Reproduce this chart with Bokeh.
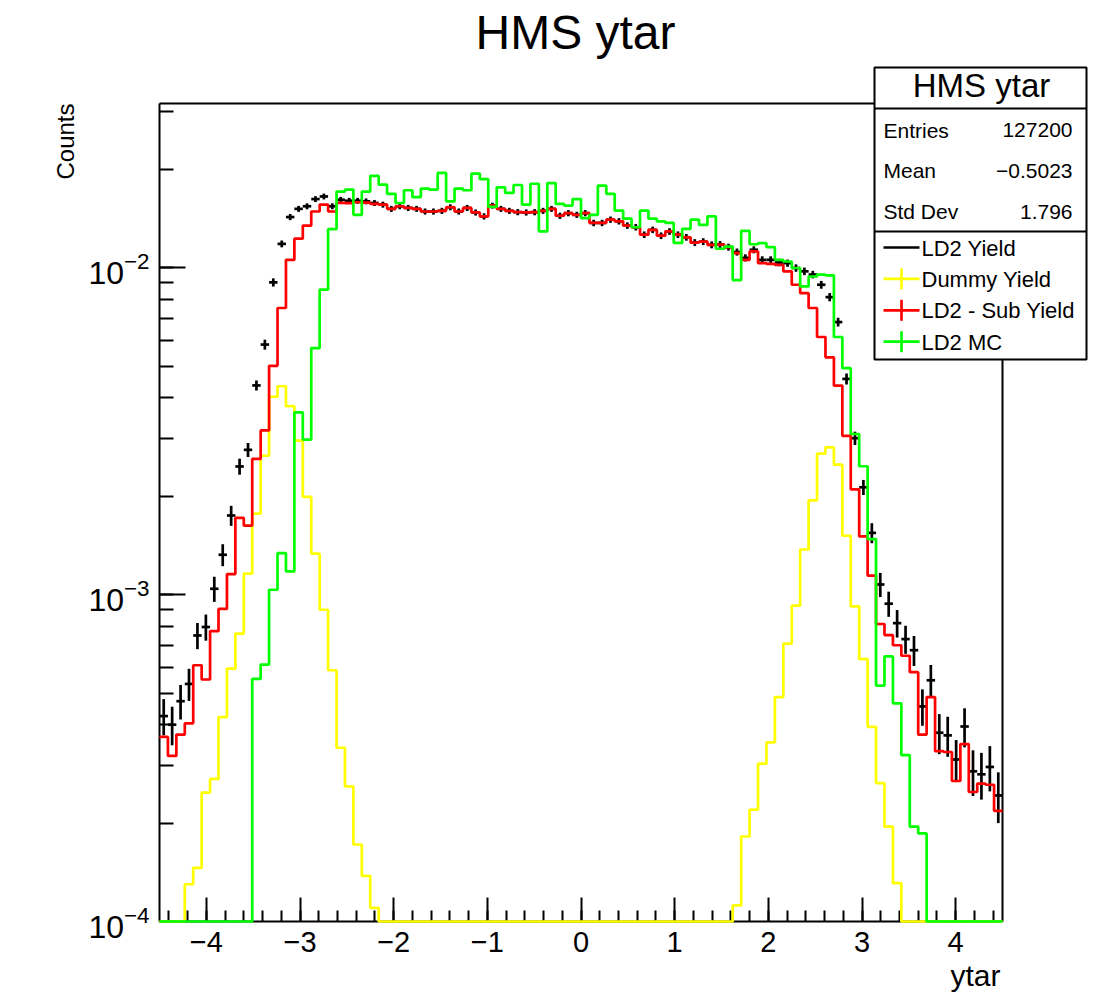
import numpy as np
from bokeh.plotting import figure
from bokeh.models import (Range1d, SingleIntervalTicker, CustomJSTickFormatter,
                          LinearAxis, LogAxis, FixedTicker)
from bokeh.core.properties import value
from bokeh.embed import file_html
from bokeh.resources import INLINE

# ---------------- data ----------------
X_MIN, X_MAX, N_BINS = -4.5, 4.5, 100
Y_MIN, Y_MAX = 1e-4, 0.0318

title_text = "HMS ytar"
x_title = "ytar"
y_title = "Counts"

stat_names = ["Entries", "Mean", "Std Dev"]
stat_values = ["127200", "\u22120.5023", "1.796"]

legend_labels = ["LD2 Yield", "Dummy Yield", "LD2 - Sub Yield", "LD2 MC"]
legend_colors = ["black", "#ffff00", "#ff0000", "#00ff00"]

# LD2 Yield (points with error bars)
ld2_yield = [
    4.25e-4, 4.00e-4, 4.72e-4, 5.33e-4, 7.50e-4, 7.96e-4, 1.042e-3, 1.324e-3, 1.746e-3, 2.466e-3,
    2.773e-3, 4.365e-3, 5.82e-3, 9.02e-3, 1.183e-2, 1.429e-2, 1.514e-2, 1.542e-2, 1.622e-2, 1.652e-2,
    1.542e-2, 1.614e-2, 1.603e-2, 1.603e-2, 1.596e-2, 1.578e-2, 1.560e-2, 1.514e-2, 1.542e-2, 1.524e-2,
    1.514e-2, 1.486e-2, 1.486e-2, 1.493e-2, 1.531e-2, 1.486e-2, 1.524e-2, 1.476e-2, 1.436e-2, 1.549e-2,
    1.514e-2, 1.493e-2, 1.479e-2, 1.476e-2, 1.479e-2, 1.493e-2, 1.514e-2, 1.442e-2, 1.469e-2, 1.452e-2,
    1.469e-2, 1.371e-2, 1.371e-2, 1.403e-2, 1.387e-2, 1.346e-2, 1.330e-2, 1.262e-2, 1.306e-2, 1.253e-2,
    1.291e-2, 1.262e-2, 1.239e-2, 1.194e-2, 1.202e-2, 1.175e-2, 1.178e-2, 1.156e-2, 1.117e-2, 1.072e-2,
    1.135e-2, 1.057e-2, 1.057e-2, 1.038e-2, 1.033e-2, 9.98e-3, 9.75e-3, 9.53e-3, 8.87e-3, 8.13e-3,
    6.82e-3, 4.57e-3, 3.01e-3, 2.13e-3, 1.545e-3, 1.074e-3, 9.38e-4, 8.18e-4, 7.31e-4, 6.76e-4,
    4.55e-4, 5.47e-4, 3.78e-4, 3.71e-4, 3.13e-4, 3.95e-4, 2.88e-4, 2.82e-4, 2.97e-4, 2.43e-4,
]
ld2_yield_err = [
    5.4e-5, 5.4e-5, 5.7e-5, 6.0e-5, 6.9e-5, 7.3e-5, 9.2e-5, 1.02e-4, 1.23e-4, 1.39e-4,
    1.37e-4, 1.54e-4, 2.05e-4, 2.6e-4, 2.85e-4, 3.1e-4, 3.2e-4, 3.25e-4, 3.35e-4, 3.4e-4,
    3.25e-4, 3.3e-4, 3.3e-4, 3.3e-4, 3.3e-4, 3.3e-4, 3.3e-4, 3.2e-4, 3.25e-4, 3.25e-4,
    3.2e-4, 3.2e-4, 3.2e-4, 3.2e-4, 3.25e-4, 3.2e-4, 3.25e-4, 3.2e-4, 3.15e-4, 3.25e-4,
    3.2e-4, 3.2e-4, 3.2e-4, 3.2e-4, 3.2e-4, 3.2e-4, 3.2e-4, 3.15e-4, 3.2e-4, 3.15e-4,
    3.2e-4, 3.1e-4, 3.1e-4, 3.1e-4, 3.1e-4, 3.05e-4, 3.05e-4, 2.95e-4, 3.0e-4, 2.95e-4,
    3.0e-4, 2.95e-4, 2.9e-4, 2.9e-4, 2.9e-4, 2.85e-4, 2.85e-4, 2.8e-4, 2.8e-4, 2.7e-4,
    2.8e-4, 2.7e-4, 2.7e-4, 2.7e-4, 2.65e-4, 2.6e-4, 2.6e-4, 2.55e-4, 2.45e-4, 2.35e-4,
    2.1e-4, 1.77e-4, 1.42e-4, 1.13e-4, 1.09e-4, 9.1e-5, 8.3e-5, 7.9e-5, 7.2e-5, 7.1e-5,
    5.8e-5, 6.2e-5, 5.3e-5, 5.2e-5, 4.6e-5, 5.4e-5, 4.6e-5, 4.6e-5, 4.7e-5, 4.3e-5,
]

# Dummy Yield
dummy_yield = [
    6e-5, 8e-5, 9e-5, 1.30e-4, 1.46e-4, 2.48e-4, 2.73e-4, 4.22e-4, 5.94e-4, 7.60e-4,
    1.159e-3, 1.770e-3, 2.66e-3, 4.03e-3, 4.34e-3, 3.77e-3, 2.96e-3, 1.99e-3, 1.334e-3, 8.99e-4,
    5.87e-4, 3.40e-4, 2.59e-4, 1.72e-4, 1.38e-4, 1.10e-4, 0, 0, 0, 0,
    0, 0, 0, 0, 0, 0, 0, 0, 0, 0,
    0, 0, 0, 0, 0, 0, 0, 0, 0, 0,
    0, 0, 0, 0, 0, 0, 0, 0, 0, 0,
    0, 0, 0, 0, 0, 0, 0, 0, 1.12e-4, 1.82e-4,
    2.20e-4, 3.04e-4, 3.53e-4, 4.86e-4, 7.08e-4, 9.25e-4, 1.374e-3, 1.941e-3, 2.70e-3, 2.82e-3,
    2.50e-3, 1.514e-3, 9.20e-4, 6.35e-4, 3.94e-4, 2.65e-4, 1.95e-4, 1.31e-4, 0, 0,
    0, 0, 0, 0, 0, 0, 0, 0, 0, 0,
]

# LD2 - Sub Yield
sub_yield = [
    3.67e-4, 3.21e-4, 3.73e-4, 4.04e-4, 6.08e-4, 5.50e-4, 7.73e-4, 9.04e-4, 1.156e-3, 1.718e-3,
    1.626e-3, 2.60e-3, 3.18e-3, 5.01e-3, 7.53e-3, 1.057e-2, 1.227e-2, 1.346e-2, 1.486e-2, 1.560e-2,
    1.486e-2, 1.580e-2, 1.577e-2, 1.586e-2, 1.582e-2, 1.567e-2, 1.560e-2, 1.514e-2, 1.542e-2, 1.524e-2,
    1.514e-2, 1.486e-2, 1.486e-2, 1.493e-2, 1.531e-2, 1.486e-2, 1.524e-2, 1.476e-2, 1.436e-2, 1.549e-2,
    1.514e-2, 1.493e-2, 1.479e-2, 1.476e-2, 1.479e-2, 1.493e-2, 1.514e-2, 1.442e-2, 1.469e-2, 1.452e-2,
    1.469e-2, 1.371e-2, 1.371e-2, 1.403e-2, 1.387e-2, 1.346e-2, 1.330e-2, 1.262e-2, 1.306e-2, 1.253e-2,
    1.291e-2, 1.262e-2, 1.239e-2, 1.194e-2, 1.202e-2, 1.175e-2, 1.178e-2, 1.156e-2, 1.109e-2, 1.057e-2,
    1.122e-2, 1.033e-2, 1.028e-2, 1.021e-2, 9.75e-3, 8.87e-3, 8.36e-3, 7.53e-3, 6.14e-3, 5.32e-3,
    4.36e-3, 3.06e-3, 2.10e-3, 1.507e-3, 1.143e-3, 8.13e-4, 7.52e-4, 7.00e-4, 6.50e-4, 5.79e-4,
    3.73e-4, 4.86e-4, 3.32e-4, 3.30e-4, 2.69e-4, 3.49e-4, 2.49e-4, 2.64e-4, 2.62e-4, 2.18e-4,
]

# LD2 MC
mc_yield = [
    0, 0, 0, 0, 0, 0, 0, 0, 0, 0,
    0, 5.52e-4, 6.11e-4, 1.035e-3, 1.340e-3, 1.178e-3, 3.61e-3, 2.98e-3, 5.68e-3, 8.57e-3,
    1.312e-2, 1.710e-2, 1.734e-2, 1.452e-2, 1.710e-2, 1.910e-2, 1.795e-2, 1.683e-2, 1.578e-2, 1.726e-2,
    1.644e-2, 1.746e-2, 1.734e-2, 1.950e-2, 1.596e-2, 1.746e-2, 1.726e-2, 1.941e-2, 1.866e-2, 1.535e-2,
    1.762e-2, 1.694e-2, 1.791e-2, 1.560e-2, 1.807e-2, 1.291e-2, 1.816e-2, 1.567e-2, 1.549e-2, 1.622e-2,
    1.419e-2, 1.452e-2, 1.782e-2, 1.683e-2, 1.496e-2, 1.413e-2, 1.330e-2, 1.496e-2, 1.413e-2, 1.387e-2,
    1.371e-2, 1.191e-2, 1.315e-2, 1.403e-2, 1.352e-2, 1.436e-2, 1.143e-2, 1.161e-2, 9.16e-3, 1.297e-2,
    1.180e-2, 1.189e-2, 1.156e-2, 1.057e-2, 1.045e-2, 9.98e-3, 8.77e-3, 9.40e-3, 9.53e-3, 9.48e-3,
    6.14e-3, 4.93e-3, 3.10e-3, 2.47e-3, 1.479e-3, 5.27e-4, 6.47e-4, 4.65e-4, 3.23e-4, 1.95e-4,
    1.86e-4, 0, 0, 0, 0, 0, 0, 0, 0, 0,
]

# ---------------- layout geometry (pixels) ----------------
W, H = 1112, 997
FL, FR, FT, FB = 159, 1002, 103, 921
FONT = "Liberation Sans"
LW = 2.7

def dx(sx):
    return X_MIN + (sx - FL) * (X_MAX - X_MIN) / (FR - FL)

def dy(sy):
    lo, hi = np.log10(Y_MIN), np.log10(Y_MAX)
    return 10 ** (lo + (FB - sy) * (hi - lo) / (FB - FT))

def mid(baseline, fs):
    # vertical middle of a text line whose baseline is at pixel row `baseline`
    return baseline - 0.35 * fs

p = figure(width=W, height=H, y_axis_type="log", output_backend="svg",
           toolbar_location=None, tools="", title=None,
           x_range=Range1d(X_MIN, X_MAX), y_range=Range1d(Y_MIN, Y_MAX),
           min_border_left=FL, min_border_right=W - FR,
           min_border_top=FT, min_border_bottom=H - FB)
p.background_fill_color = "white"
p.border_fill_color = "white"
p.outline_line_color = None
p.xgrid.visible = False
p.ygrid.visible = False

# x axis
xa = p.xaxis[0]
xa.ticker = SingleIntervalTicker(interval=1, num_minor_ticks=5)
xa.formatter = CustomJSTickFormatter(code="return (tick < 0 ? '\u2212' : '') + Math.abs(tick).toFixed(0);")
xa.major_tick_in, xa.major_tick_out = 24, 0
xa.minor_tick_in, xa.minor_tick_out = 11, 0
xa.axis_line_width = 2
xa.major_tick_line_width = 2
xa.minor_tick_line_width = 2
xa.major_label_text_font = FONT
xa.major_label_text_font_size = "29px"
xa.major_label_text_color = "black"
xa.major_label_standoff = 10

# y axis
ya = p.yaxis[0]
ya.major_tick_in, ya.major_tick_out = 26, 0
ya.minor_tick_in, ya.minor_tick_out = 14, 0
ya.axis_line_width = 2
ya.major_tick_line_width = 2
ya.minor_tick_line_width = 2
ya.major_label_text_font = FONT
ya.major_label_text_font_size = "32px"
ya.major_label_text_color = "black"
ya.major_label_standoff = 10

# top and right frame lines
top_ax = LinearAxis(ticker=FixedTicker(ticks=[]), axis_line_width=2,
                    major_tick_in=0, major_tick_out=0, minor_tick_in=0, minor_tick_out=0,
                    major_label_text_font_size="0px")
right_ax = LogAxis(ticker=FixedTicker(ticks=[]), axis_line_width=2,
                   major_tick_in=0, major_tick_out=0, minor_tick_in=0, minor_tick_out=0,
                   major_label_text_font_size="0px")
p.add_layout(top_ax, "above")
p.add_layout(right_ax, "right")

# ---------------- histograms ----------------
edges = np.linspace(X_MIN, X_MAX, N_BINS + 1)
centers = 0.5 * (edges[:-1] + edges[1:])

def step_y(vals):
    v = np.maximum(np.asarray(vals, dtype=float), Y_MIN)
    return np.append(v, v[-1])

ly = np.asarray(ld2_yield)
le = np.asarray(ld2_yield_err)
p.segment(x0=centers, y0=np.maximum(ly - le, Y_MIN), x1=centers, y1=ly + le,
          line_color="black", line_width=LW, level="overlay")
p.segment(x0=edges[:-1], y0=ly, x1=edges[1:], y1=ly,
          line_color="black", line_width=LW, level="overlay")

for vals, col in [(dummy_yield, legend_colors[1]), (sub_yield, legend_colors[2]),
                  (mc_yield, legend_colors[3])]:
    p.step(x=edges, y=step_y(vals), mode="after", line_color=col, line_width=LW,
           level="overlay")

# ---------------- titles (outside the frame) ----------------
p.text(x=[dx(575)], y=[dy(mid(49, 48))], text=[title_text], text_align="center",
       text_baseline="middle", text_font=value(FONT), text_font_size="48px",
       text_color="black", level="overlay")
p.text(x=[dx(mid(73, 24))], y=[dy(103)], text=[y_title], angle=np.pi / 2,
       text_align="right", text_baseline="middle", text_font=value(FONT),
       text_font_size="24px", text_color="black", level="overlay")
p.text(x=[dx(1000)], y=[dy(mid(985, 30))], text=[x_title], text_align="right",
       text_baseline="middle", text_font=value(FONT), text_font_size="30px",
       text_color="black", level="overlay")

# ---------------- stats box + legend ----------------
BL, BR = 874, 1086
p.quad(left=[dx(BL)], right=[dx(BR)], top=[dy(67)], bottom=[dy(359)],
       fill_color="white", line_color="black", line_width=2, level="overlay")
p.segment(x0=[dx(BL)] * 2, x1=[dx(BR)] * 2, y0=[dy(108), dy(231)], y1=[dy(108), dy(231)],
          line_color="black", line_width=2, level="overlay")

p.text(x=[dx(981)], y=[dy(mid(97, 33))], text=[title_text], text_align="center",
       text_baseline="middle", text_font=value(FONT), text_font_size="33px",
       text_color="black", level="overlay")

stat_y = [dy(mid(137 + 40.8 * i, 21)) for i in range(len(stat_names))]
p.text(x=[dx(883)] * len(stat_names), y=stat_y, text=stat_names, text_align="left",
       text_baseline="middle", text_font=value(FONT), text_font_size="21px",
       text_color="black", level="overlay")
p.text(x=[dx(1072)] * len(stat_values), y=stat_y, text=stat_values, text_align="right",
       text_baseline="middle", text_font=value(FONT), text_font_size="21px",
       text_color="black", level="overlay")

row_c = [247 + 31.4 * i for i in range(len(legend_labels))]
p.segment(x0=[dx(883)] * 4, x1=[dx(919)] * 4, y0=[dy(c) for c in row_c],
          y1=[dy(c) for c in row_c], line_color=legend_colors, line_width=LW, level="overlay")
p.segment(x0=[dx(901)] * 3, x1=[dx(901)] * 3, y0=[dy(c - 10.5) for c in row_c[1:]],
          y1=[dy(c + 10.5) for c in row_c[1:]], line_color=legend_colors[1:],
          line_width=LW, level="overlay")
p.text(x=[dx(921)] * 4, y=[dy(c + 0.5) for c in row_c], text=legend_labels,
       text_align="left", text_baseline="middle", text_font=value(FONT),
       text_font_size="22px", text_color="black", level="overlay")

open("out.html", "w").write(file_html(p, INLINE))
